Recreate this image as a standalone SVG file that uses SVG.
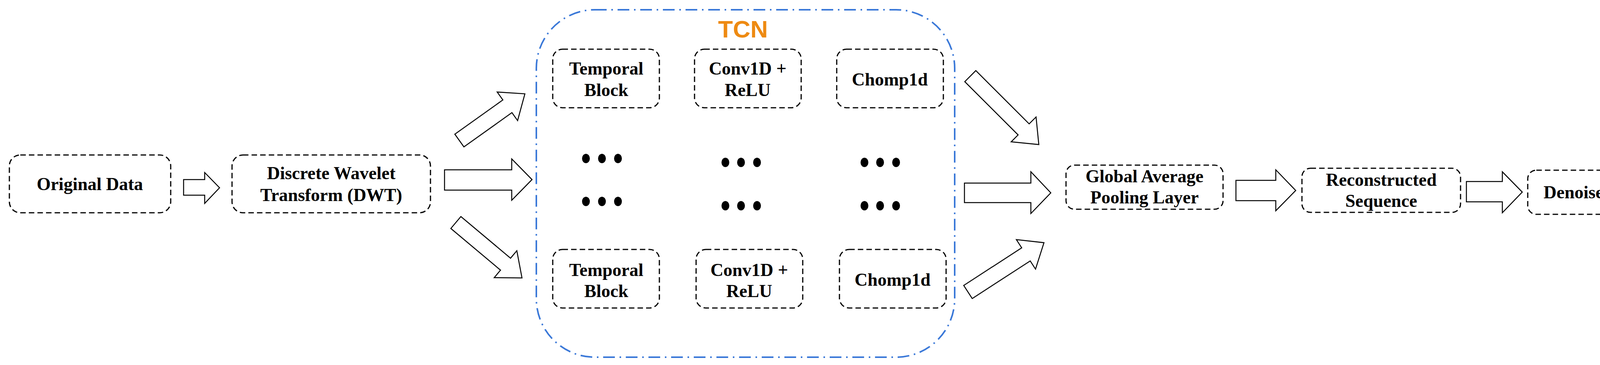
<svg xmlns="http://www.w3.org/2000/svg" width="4295" height="935" viewBox="0 0 4295 935">
<style>
.box{fill:#fff;stroke:#000;stroke-width:3;stroke-dasharray:14 8}
.t{font-family:"Liberation Serif",serif;font-weight:bold;font-size:46px;text-anchor:middle;fill:#000}
.ar{fill:#fff;stroke:#000;stroke-width:2.5;stroke-linejoin:miter}
.dot{fill:#000}
</style>
<rect width="4295" height="935" fill="#fff"/>
<g id="tcn">
<rect x="1373" y="25" width="1071" height="890" rx="150" fill="none" stroke="#3a78d8" stroke-width="4" stroke-dasharray="30 12 4 12"/>
<text x="1902" y="96" font-family="Liberation Sans,sans-serif" font-weight="bold" font-size="62" text-anchor="middle" fill="#ee8a12">TCN</text>
</g>
<g id="original"><rect class="box" x="24" y="397" width="413" height="148" rx="28"/><text class="t" x="230" y="487">Original Data</text></g>
<g id="dwt"><rect class="box" x="594" y="397" width="508" height="148" rx="28"/><text class="t" x="848" y="459">Discrete Wavelet</text><text class="t" x="848" y="515">Transform (DWT)</text></g>
<g id="tb1"><rect class="box" x="1415" y="126" width="273" height="150" rx="25"/><text class="t" x="1552" y="191">Temporal</text><text class="t" x="1552" y="246">Block</text></g>
<g id="conv1"><rect class="box" x="1778" y="126" width="273" height="150" rx="25"/><text class="t" x="1914" y="191">Conv1D +</text><text class="t" x="1914" y="246">ReLU</text></g>
<g id="chomp1"><rect class="box" x="2142" y="126" width="273" height="150" rx="25"/><text class="t" x="2278" y="219">Chomp1d</text></g>
<g id="tb2"><rect class="box" x="1415" y="639" width="273" height="150" rx="25"/><text class="t" x="1552" y="707">Temporal</text><text class="t" x="1552" y="761">Block</text></g>
<g id="conv2"><rect class="box" x="1782" y="639" width="273" height="150" rx="25"/><text class="t" x="1918" y="707">Conv1D +</text><text class="t" x="1918" y="761">ReLU</text></g>
<g id="chomp2"><rect class="box" x="2149" y="639" width="273" height="150" rx="25"/><text class="t" x="2285" y="732">Chomp1d</text></g>
<g id="dots">
<ellipse class="dot" cx="1500" cy="406" rx="10" ry="12"/><ellipse class="dot" cx="1541" cy="406" rx="10" ry="12"/><ellipse class="dot" cx="1582" cy="406" rx="10" ry="12"/>
<ellipse class="dot" cx="1500" cy="516" rx="10" ry="12"/><ellipse class="dot" cx="1541" cy="516" rx="10" ry="12"/><ellipse class="dot" cx="1582" cy="516" rx="10" ry="12"/>
<ellipse class="dot" cx="1857" cy="416" rx="10" ry="12"/><ellipse class="dot" cx="1897" cy="416" rx="10" ry="12"/><ellipse class="dot" cx="1938" cy="416" rx="10" ry="12"/>
<ellipse class="dot" cx="1857" cy="527" rx="10" ry="12"/><ellipse class="dot" cx="1897" cy="527" rx="10" ry="12"/><ellipse class="dot" cx="1938" cy="527" rx="10" ry="12"/>
<ellipse class="dot" cx="2213" cy="416" rx="10" ry="12"/><ellipse class="dot" cx="2253" cy="416" rx="10" ry="12"/><ellipse class="dot" cx="2294" cy="416" rx="10" ry="12"/>
<ellipse class="dot" cx="2213" cy="527" rx="10" ry="12"/><ellipse class="dot" cx="2253" cy="527" rx="10" ry="12"/><ellipse class="dot" cx="2294" cy="527" rx="10" ry="12"/>
</g>
<g id="gap"><rect class="box" x="2729" y="423" width="402" height="113" rx="22"/><text class="t" x="2930" y="467">Global Average</text><text class="t" x="2930" y="521">Pooling Layer</text></g>
<g id="recon"><rect class="box" x="3333" y="431" width="406" height="113" rx="22"/><text class="t" x="3536" y="476">Reconstructed</text><text class="t" x="3536" y="530">Sequence</text></g>
<g id="denoised"><rect class="box" x="3911" y="436" width="366" height="113" rx="22"/><text class="t" x="4094" y="508">Denoised Data</text></g>
<g id="connectors">
<polygon class="ar" points="470,460 524,460 524,442 562,481 524,521 524,500 470,500"/>
<polygon class="ar" points="1138,435 1310,435 1310,407 1362,460 1310,513 1310,487 1138,487"/>
<polygon class="ar" transform="translate(1176,360) rotate(-35.5)" points="0,-20 151,-20 151,-45 206,0 151,45 151,20 0,20"/>
<polygon class="ar" transform="translate(1167,570) rotate(40)" points="0,-20 166,-20 166,-45 221,0 166,45 166,20 0,20"/>
<polygon class="ar" transform="translate(2484,195) rotate(45)" points="0,-20 193,-20 193,-45 248,0 193,45 193,20 0,20"/>
<polygon class="ar" transform="translate(2478,748) rotate(-33)" points="0,-20 177,-20 177,-45 232,0 177,45 177,20 0,20"/>
<polygon class="ar" points="2469,469 2639,469 2639,440 2690,494 2639,547 2639,519 2469,519"/>
<polygon class="ar" points="3164,462 3266,462 3266,435 3317,488 3266,540 3266,514 3164,514"/>
<polygon class="ar" points="3754,465 3846,465 3846,440 3897,492 3846,545 3846,517 3754,517"/>
</g>
</svg>
